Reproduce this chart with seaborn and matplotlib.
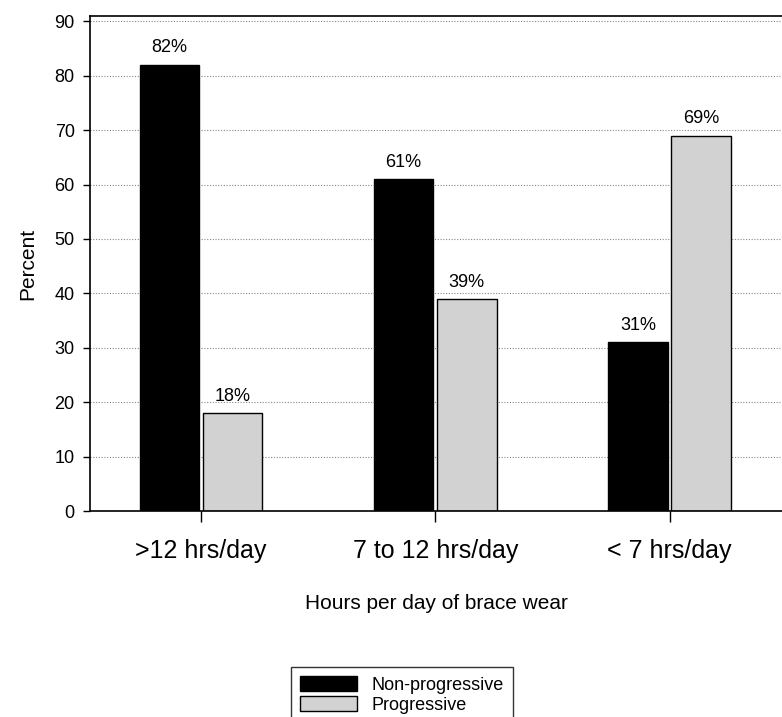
import matplotlib
matplotlib.use("Agg")
import matplotlib.pyplot as plt
import seaborn as sns
import pandas as pd

categories = [">12 hrs/day", "7 to 12 hrs/day", "< 7 hrs/day"]
non_progressive = [82, 61, 31]
progressive = [18, 39, 69]
series_names = ["Non-progressive", "Progressive"]
y_ticks = [0, 10, 20, 30, 40, 50, 60, 70, 80, 90]

df = pd.DataFrame({
    "Hours": categories * 2,
    "Percent": non_progressive + progressive,
    "Group": [series_names[0]] * len(categories) + [series_names[1]] * len(categories),
})

sns.set_style("white")
plt.rcParams["font.family"] = ["Liberation Sans", "DejaVu Sans"]
plt.rcParams["text.color"] = "black"
plt.rcParams["axes.labelcolor"] = "black"
plt.rcParams["xtick.color"] = "black"
plt.rcParams["ytick.color"] = "black"

fig = plt.figure(figsize=(7.82, 7.17), dpi=100)
ax = fig.add_axes([0.115, 0.287, 0.885, 0.691])

sns.barplot(
    data=df,
    x="Hours",
    y="Percent",
    hue="Group",
    order=categories,
    hue_order=series_names,
    palette=["#000000", "#d2d2d2"],
    width=0.54,
    gap=0.06,
    edgecolor="black",
    linewidth=1.0,
    saturation=1,
    legend=True,
    ax=ax,
)

for c in ax.containers:
    ax.bar_label(c, fmt="%g%%", padding=6, fontsize=13, color="black")

ax.set_xlim(-0.474, 2.48)
ax.set_ylim(0, 91)
ax.set_yticks(y_ticks)
ax.yaxis.grid(True, linestyle=(0, (1, 1.5)), color="#888888", linewidth=0.8)
ax.set_axisbelow(True)

ax.tick_params(axis="y", which="major", direction="out", length=5, width=1,
               color="black", labelsize=13, pad=6, left=True)
ax.tick_params(axis="x", which="major", direction="out", length=8, width=1,
               color="black", labelsize=18, pad=12, bottom=True)

for side in ["left", "bottom", "top"]:
    ax.spines[side].set_color("black")
    ax.spines[side].set_linewidth(1.2)
ax.spines["right"].set_visible(False)

ax.set_ylabel("Percent", fontsize=15, labelpad=12)
ax.set_xlabel("Hours per day of brace wear", fontsize=15, labelpad=22)

ax.get_legend().remove()
handles, labels = ax.get_legend_handles_labels()
leg = fig.legend(
    handles, labels,
    loc="upper center",
    bbox_to_anchor=(0.514, 0.082),
    frameon=True,
    fancybox=False,
    edgecolor="black",
    fontsize=13,
    handlelength=3.2,
    handleheight=0.9,
    handletextpad=0.8,
    borderpad=0.5,
    labelspacing=0.1,
)
leg.get_frame().set_linewidth(1.0)

plt.savefig("out.png", dpi=100)
plt.close()
